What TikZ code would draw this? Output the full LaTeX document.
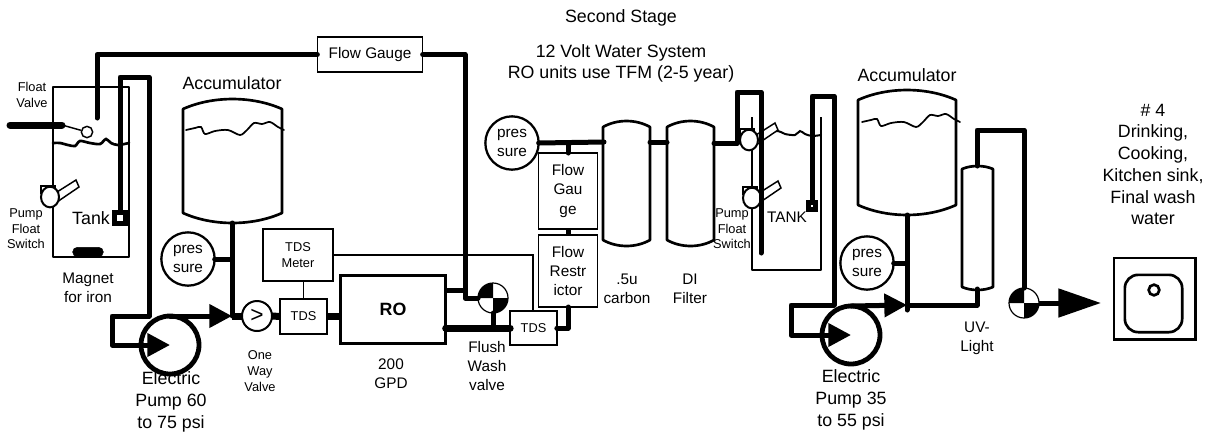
\documentclass[tikz,border=0pt]{standalone}
\usepackage{fontspec}
\setmainfont{Liberation Sans}
\usetikzlibrary{arrows.meta,calc,shapes.geometric,shapes.misc}
\tikzset{
  pipe/.style={line width=3.75pt,line cap=round,line join=round},
  widepipe/.style={line width=5.25pt,line cap=round,line join=round},
  wall/.style={line width=2pt,line join=round},
  wire/.style={line width=1.1pt},
  box/.style={draw,line width=1.1pt,fill=white,inner sep=0pt,outer sep=0pt,align=center},
  gauge/.style={draw,circle,line width=1.7pt,fill=white,inner sep=0pt,outer sep=0pt,minimum size=40pt,align=center,font=\midfont},
  pumpcase/.style={draw,circle,line width=3.6pt,fill=white,inner sep=0pt,outer sep=0pt,minimum size=43.5pt},
  valvecase/.style={draw,circle,line width=.9pt,fill=white,inner sep=0pt,outer sep=0pt,minimum size=22.5pt},
  bigtxt/.style={inner sep=0pt,align=center,font=\bigfont},
  midtxt/.style={inner sep=0pt,align=center,font=\midfont},
  smalltxt/.style={inner sep=0pt,align=center,font=\smallfont},
  pumptip/.style={-{Triangle[length=17pt,width=17pt]}}
}
\newcommand{\bigfont}{\fontsize{13.35}{16.3}\selectfont}
\newcommand{\midfont}{\fontsize{11.5}{14.3}\selectfont}
\newcommand{\smallfont}{\fontsize{9.6}{11.7}\selectfont}
% x, width, top corner, bottom corner, bulge
\newcommand{\vesselsym}[5]{%
  \draw[wall,fill=white] (#1,#3) .. controls ({#1+0.3*#2},{#3-1.33*#5}) and ({#1+0.7*#2},{#3-1.33*#5}) .. ({#1+#2},#3)
    -- ({#1+#2},#4) .. controls ({#1+0.7*#2},{#4+1.33*#5}) and ({#1+0.3*#2},{#4+1.33*#5}) .. (#1,#4) -- cycle;%
}
\newcommand{\accumwater}[2]{%
  \draw[line width=1.3pt,line cap=round,xshift=#1*0.75pt,yshift=-#2*0.75pt] plot[smooth,tension=0.5] coordinates
    {(186,130) (195,128) (201,127) (205,134) (215,131) (228,130) (240,135) (247,130) (254,123) (262,124) (270,122) (278,127) (284,130)};%
}
% name, x, y
\newcommand{\floatsw}[3]{%
  \draw[wire,fill=white] ({#2-9},{#3-11}) rectangle ({#2+5},{#3-4});%
  \draw[wire,fill=white] ({#2+7},{#3-5}) -- ({#2+26},{#3-17}) -- ({#2+29},{#3-10}) -- ({#2+7},{#3+5}) -- cycle;%
  \node[draw,ellipse,line width=1.5pt,fill=white,inner sep=0pt,minimum width=13.5pt,minimum height=15.5pt] (#1) at (#2,#3) {};%
}
% name, x, y
\newcommand{\ballvalve}[3]{%
  \node[valvecase] (#1) at (#2,#3) {};%
  \fill (#1.center) -- (#1.west) arc[start angle=180,end angle=90,radius=11.25pt] -- cycle;%
  \fill (#1.center) -- (#1.east) arc[start angle=0,end angle=-90,radius=11.25pt] -- cycle;%
}

\begin{document}
\begin{tikzpicture}[x=0.75pt,y=-0.75pt]
  \useasboundingbox (0,0) rectangle (1205,433);
  % first tank
  \draw[wall] (53,87) rectangle (129,257);
  \draw[line width=2pt,line cap=round] plot[smooth,tension=0.5] coordinates
    {(53,143) (60,143) (68,145) (75,146) (80,141) (90,143) (100,144) (106,139) (111,143) (118,145) (129,143)};
  \node[draw,rounded rectangle,fill,minimum width=23pt,minimum height=7pt,inner sep=0pt] (magnet) at (88,252) {};
  \coordinate (inleta) at (10,125);
  \coordinate (inletb) at (62,125);
  \node[draw,circle,line width=1.1pt,fill=white,inner sep=0pt,minimum size=8.5pt] (floatball) at (87,132) {};
  \draw[widepipe] (inleta) -- (inletb);
  \draw[wire] (inletb) -- (floatball);
  \floatsw{switcha}{50}{197}
  % accumulators
  \vesselsym{183}{99}{109}{213}{10}
  \accumwater{0}{0}
  \vesselsym{858}{98}{100}{205}{10}
  \accumwater{676}{-8}
  \coordinate (accaout) at (232,223);
  \coordinate (accbout) at (907,215);
  % boxes
  \node[box,minimum width=79pt,minimum height=26pt,font=\midfont] (flowbox) at (370,54.5) {Flow Gauge};
  \node[box,minimum width=52.5pt,minimum height=39pt,font=\smallfont] (meter) at (298,255) {TDS\\Meter};
  \node[box,minimum width=35pt,minimum height=26pt,font=\smallfont] (tdsa) at (303.5,316.5) {TDS};
  \node[box,line width=2.6pt,minimum width=79pt,minimum height=51pt,font=\bfseries\bigfont] (ro) at (393,309.5) {RO};
  \node[box,minimum width=35pt,minimum height=25.5pt,font=\smallfont] (tdsb) at (533.5,328) {TDS};
  \node[box,minimum width=44pt,minimum height=54pt,font=\midfont] (restrict) at (568,271) {Flow\\Restr\\ictor};
  \node[box,minimum width=44pt,minimum height=57pt,font=\midfont] (gaugeb) at (568,191) {Flow\\Gau\\ge};
  \foreach \n/\x/\y in {presa/188/259,presb/512/143,presc/867/263}
    \node[gauge] (\n) at (\x,\y) {pres\\sure};
  % pumps and valves
  \node[pumpcase] (pumpa) at (170,345) {};
  \node[pumpcase] (pumpb) at (851,335) {};
  \node[draw,circle,line width=1.5pt,fill=white,inner sep=0pt,outer sep=0pt,minimum size=22.5pt,font=\fontsize{17}{17}\selectfont] (oneway) at (257,316) {>};
  \ballvalve{valvea}{493}{298}
  \ballvalve{valveb}{1024}{303}
  % first stage pipes
  \coordinate (riserfoot) at (97,118);
  \coordinate (flowdrop) at (465,298);
  \draw[pipe] (riserfoot) |- (flowbox.west);
  \draw[pipe] (flowbox.east) -| (flowdrop) -- (valvea.west);
  \coordinate (suctiona) at (120,218);
  \coordinate (suctionb) at (120,77);
  \coordinate (suctionc) at (149,77);
  \coordinate (suctiond) at (149,316);
  \coordinate (suctione) at (112,316);
  \coordinate (suctionf) at (112,345);
  \draw[pipe,pumptip] (suctiona) -- (suctionb) -- (suctionc) -- (suctiond) -- (suctione) -- (suctionf) -- (pumpa.center);
  \node[draw,line width=3.4pt,fill=white,inner sep=0pt,minimum size=8.5pt] (sensora) at (suctiona) {};
  \coordinate (joina) at (232,316);
  \draw[pipe,pumptip] (pumpa.north) -- (joina);
  \draw[pipe] (accaout) -- (joina);
  \draw[pipe] (presa.east) -- (presa.east -| joina);
  \draw[widepipe,line cap=butt] (joina) -- (oneway.west);
  \draw[widepipe,line cap=butt] (oneway.east) -- (tdsa.west);
  \draw[widepipe,line cap=butt] (tdsa.east) -- (ro.west |- tdsa.east);
  \draw[wire] (tdsa.north) -- (tdsa.north |- meter.south);
  \coordinate (sensetop) at (533,311);
  \draw[wire] (meter.east) -| (sensetop);
  \coordinate (rostub) at (447,290);
  \draw[pipe] (rostub) -- (rostub -| flowdrop);
  \draw[widepipe] (ro.east |- tdsb.west) -- (tdsb.west);
  \draw[pipe] (valvea.south) -- (valvea.south |- tdsb.west);
  \draw[pipe] (tdsb.east) -| (restrict.south);
  \draw[pipe,line cap=butt] (restrict.north) -- (gaugeb.south);
  \draw[pipe] (gaugeb.north) -- (gaugeb.north |- presb.east);
  % carbon and DI
  \vesselsym{603}{47}{127}{240}{6}
  \vesselsym{667}{47}{127}{240}{6}
  \coordinate (carbonin) at (604,142);
  \coordinate (carbonout) at (650,142);
  \coordinate (diin) at (667,142);
  \coordinate (diout) at (714,143);
  \draw[pipe] (presb.east) -- (carbonin);
  \draw[pipe] (carbonout) -- (diin);
  % second tank
  \draw[wall] (752,117) -- (752,270) -- (821,270) -- (821,117);
  \draw[line width=1.5pt,line cap=round] plot[smooth,tension=0.5] coordinates
    {(758,137) (765,133) (778,131) (785,134) (795,135) (800,131) (805,134) (812,136) (821,135)};
  \floatsw{switchb}{749}{140}
  \floatsw{switchc}{752}{198}
  \coordinate (fillb) at (737,143);
  \coordinate (fillc) at (737,92);
  \coordinate (filld) at (761,92);
  \coordinate (fille) at (761,253);
  \draw[pipe] (diout) -- (fillb) -- (fillc) -- (filld) -- (fille);
  \coordinate (suctiong) at (812,96);
  \coordinate (suctionh) at (834,96);
  \coordinate (suctioni) at (834,305);
  \coordinate (suctionj) at (791,305);
  \coordinate (suctionk) at (791,335);
  \coordinate (suctionl) at (812,206);
  \draw[pipe] (suctionl) -- (suctiong) -- (suctionh) -- (suctioni);
  \node[draw,line width=3.7pt,fill=white,inner sep=0pt,minimum size=5.5pt] (sensorb) at (suctionl) {};
  \draw[pipe,pumptip] (suctioni) -- (suctionj) -- (suctionk) -- (pumpb.center);
  % UV and output
  \vesselsym{962}{31}{169}{287}{3}
  \coordinate (joinb) at (907,305);
  \coordinate (uvin) at (977,305);
  \coordinate (uvbot) at (977,289);
  \coordinate (uvtop) at (977,166);
  \coordinate (uvrise) at (977,130);
  \coordinate (accbfoot) at (907,310);
  \draw[pipe] (accbout) -- (accbfoot);
  \draw[pipe] (presc.east) -- (presc.east -| joinb);
  \draw[pipe,pumptip] (pumpb.north) -- (joinb);
  \draw[pipe] (joinb) -- (uvin) -- (uvbot);
  \draw[pipe] (uvtop) -- (uvrise) -| (valveb.north);
  \coordinate (sinktip) at (1101,303);
  \draw[pipe,line cap=butt,-{Triangle[length=32pt,width=21pt]}] (valveb.east) -- (sinktip);
  % sink
  \node[draw,line width=2pt,inner sep=0pt,outer sep=0pt,minimum size=61pt] (sink) at (1154.5,298.5) {};
  \node[draw,line width=2pt,rounded corners=10pt,inner sep=0pt,minimum size=43pt] (basin) at (1153.5,303.5) {};
  \node[draw,circle,line width=2pt,inner sep=0pt,minimum size=8pt] (drain) at (1154,290) {};
  % labels
  \node[bigtxt] (stagetxt) at (621,18) {Second Stage};
  \node[bigtxt] (systemtxt) at (621,63.5) {12 Volt Water System\\RO units use TFM (2-5 year)};
  \node[smalltxt] (floatvtxt) at (32,95) {Float\\Valve};
  \node[smalltxt] (switchatxt) at (26,229) {Pump\\Float\\Switch};
  \node[bigtxt] (tanktxt) at (91,218) {Tank};
  \node[midtxt] (magnettxt) at (88,288) {Magnet\\for iron};
  \node[bigtxt] (accatxt) at (232,83) {Accumulator};
  \node[bigtxt] (accbtxt) at (907,75) {Accumulator};
  \node[bigtxt] (pumpatxt) at (171,402) {Electric\\Pump 60\\to 75 psi};
  \node[smalltxt] (onewaytxt) at (260,371) {One\\Way\\Valve};
  \node[midtxt] (gpdtxt) at (391,373.5) {200\\GPD};
  \node[midtxt] (flushtxt) at (487,366) {Flush\\Wash\\valve};
  \node[midtxt] (carbontxt) at (627,288.5) {.5u\\carbon};
  \node[midtxt] (ditxt) at (690,288.5) {DI\\Filter};
  \node[smalltxt] (switchbtxt) at (732,229) {Pump\\Float\\Switch};
  \node[midtxt] (tankbtxt) at (787,217) {TANK};
  \node[bigtxt] (pumpbtxt) at (851,400) {Electric\\Pump 35\\to 55 psi};
  \node[midtxt] (uvtxt) at (977,338) {UV-\\Light};
  \node[bigtxt] (drinktxt) at (1153,164.5) {\# 4\\Drinking,\\Cooking,\\Kitchen sink,\\Final wash\\water};
\end{tikzpicture}
\end{document}
